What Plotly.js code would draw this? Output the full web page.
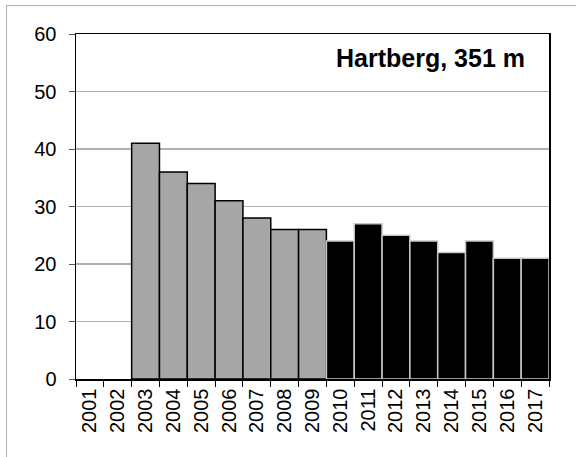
<!DOCTYPE html>
<html>
<head>
<meta charset="utf-8">
<script src="https://cdn.plot.ly/plotly-3.0.1.min.js"></script>
<style>
html,body{margin:0;padding:0;background:#fff;}
#wrap{position:relative;width:576px;height:457px;}
#chart{position:absolute;left:0;top:0;width:576px;height:457px;}
#frame{position:absolute;left:6px;top:5px;width:576px;height:460px;border-left:1px solid #b0b0b0;border-top:1px solid #b0b0b0;pointer-events:none;}
</style>
</head>
<body>
<div id="wrap"><div id="chart"></div><div id="frame"></div></div>
<script>
var years = ["2001","2002","2003","2004","2005","2006","2007","2008","2009","2010","2011","2012","2013","2014","2015","2016","2017"];
var valuesEarly = [null, null, 41, 36, 34, 31, 28, 26, 26];
var valuesLate = [24, 27, 25, 24, 22, 24, 21, 21];
var yearsEarly = years.slice(0, 9);
var yearsLate = years.slice(9);
var stationLabel = "Hartberg, 351 m";

var traces = [
  {type:'bar', x: yearsEarly, y: valuesEarly, marker:{color:'#a6a6a6', line:{color:'#000000', width:1.5}}, hoverinfo:'x+y'},
  {type:'bar', x: yearsLate, y: valuesLate, marker:{color:'#000000', line:{color:'#c8c8c8', width:1.5}}, hoverinfo:'x+y'}
];

var layout = {
  width:576, height:457,
  margin:{l:76, r:27, t:34, b:78},
  paper_bgcolor:'rgba(0,0,0,0)', plot_bgcolor:'#fff',
  showlegend:false,
  barmode:'overlay', bargap:0,
  font:{family:'"Liberation Sans", Arial, sans-serif', color:'#000'},
  xaxis:{type:'category', categoryorder:'array', categoryarray: years,
    showline:true, linecolor:'#000', linewidth:1.5, mirror:true,
    ticks:'outside', ticklen:6, tickcolor:'#000', tickwidth:1, tickson:'boundaries',
    tickangle:-90, tickfont:{size:20, color:'#000'}, showgrid:false, fixedrange:true},
  yaxis:{range:[0,60], dtick:10, tick0:0,
    showline:true, linecolor:'#000', linewidth:1.5, mirror:true,
    ticks:'outside', ticklen:6, tickcolor:'#555', tickwidth:1, ticklabelstandoff:8,
    tickfont:{size:20, color:'#000'}, showgrid:true, gridcolor:'#b0b0b0', gridwidth:1.2,
    zeroline:false, fixedrange:true},
  annotations:[{text:'<b>'+stationLabel+'</b>', xref:'paper', yref:'paper', x:0.953, y:0.93,
    xanchor:'right', yanchor:'middle', showarrow:false,
    font:{size:25, color:'#000', family:'"Liberation Sans", Arial, sans-serif'}}]
};

Plotly.newPlot('chart', traces, layout, {displayModeBar:false, staticPlot:true});
</script>
</body>
</html>
